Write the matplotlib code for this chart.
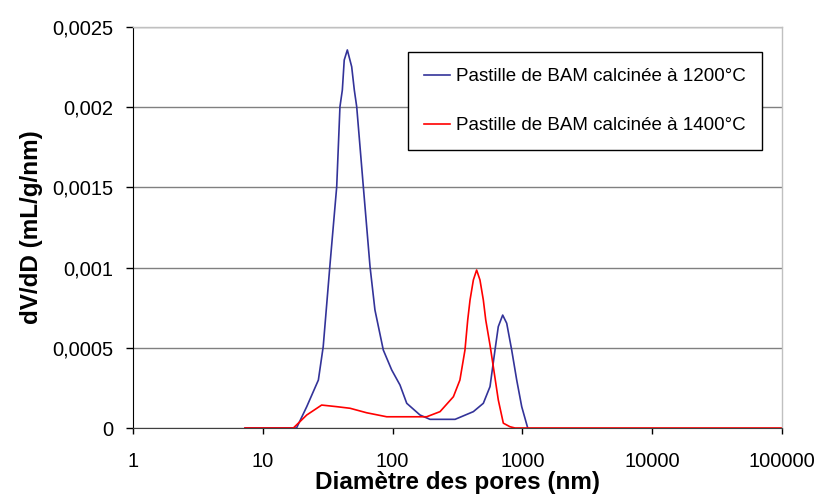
import matplotlib
matplotlib.use("Agg")
import matplotlib.pyplot as plt
from matplotlib.ticker import FixedLocator, FuncFormatter, NullLocator

plt.rcParams['font.family'] = ['Liberation Sans', 'DejaVu Sans']

# Data: pore diameter (nm) and dV/dD (mL/g/nm)
d_1200 = [7.3, 18.2, 21.8, 26.8, 29.2, 33.0, 37.1, 39.3, 41.0, 42.4, 44.8, 48.4, 50.7,
          52.9, 59.5, 67.0, 73.1, 84.8, 98.4, 114, 128.5, 162.6, 194, 303, 419, 500,
          563, 615, 652, 705, 757, 827, 904, 988, 1099]
v_1200 = [0, 0, 0.000133, 0.000299, 0.000507, 0.001027, 0.001504, 0.002003, 0.002107,
          0.002294, 0.002357, 0.002252, 0.002107, 0.002003, 0.001504, 0.001006, 0.000736,
          0.000486, 0.000362, 0.000268, 0.000154, 0.000081, 0.000054, 0.000054, 0.000102,
          0.000154, 0.000258, 0.000486, 0.000632, 0.000704, 0.000653, 0.000486, 0.000299,
          0.000133, 0.0]

d_1400 = [7.3, 17.2, 21.8, 28.4, 37.1, 47.0, 63.1, 90.1, 183, 232, 294, 330, 361, 379,
          395, 419, 444, 471, 500, 522, 563, 597, 652, 713, 802, 877, 100000]
v_1400 = [0, 0, 0.000081, 0.000143, 0.000133, 0.000123, 0.000095, 0.00007, 0.00007,
          0.000102, 0.000195, 0.000299, 0.000486, 0.000673, 0.000798, 0.000923, 0.000985,
          0.000923, 0.000798, 0.000673, 0.000517, 0.000382, 0.000175, 0.00003, 0.000008,
          0, 0]

labels = ["Pastille de BAM calcinée à 1200°C", "Pastille de BAM calcinée à 1400°C"]
x_ticks = [1, 10, 100, 1000, 10000, 100000]
y_ticks = [0, 0.0005, 0.001, 0.0015, 0.002, 0.0025]
y_tick_labels = ["0", "0,0005", "0,001", "0,0015", "0,002", "0,0025"]

fig = plt.figure(figsize=(8.19, 4.97), dpi=100)
ax = fig.add_axes([133/819, 1-428/497, (782-133)/819, (428-27)/497])

ax.plot(d_1200, v_1200, color="#333399", lw=1.2, label=labels[0])
ax.plot(d_1400, v_1400, color="#FF0000", lw=1.2, label=labels[1])

ax.set_xscale("log")
ax.set_xlim(1, 100000)
ax.set_ylim(0, 0.0025)
ax.xaxis.set_major_locator(FixedLocator(x_ticks))
ax.xaxis.set_minor_locator(NullLocator())
ax.xaxis.set_major_formatter(FuncFormatter(lambda v, p: f"{int(round(v))}"))
ax.set_yticks(y_ticks)
ax.set_yticklabels(y_tick_labels)

ax.grid(axis="y", color="#808080", lw=1.0)
ax.set_axisbelow(True)
for s in ["top", "right"]:
    ax.spines[s].set_color("#c0c0c0")
    ax.spines[s].set_linewidth(1.0)
ax.spines["left"].set_color("black")
ax.spines["bottom"].set_color("#404040")

ax.tick_params(axis="y", direction="out", length=5, width=1, pad=9, labelsize=14.5, colors="black")
ax.tick_params(axis="x", direction="out", length=4, width=1, pad=13, labelsize=14.5, colors="black")

ax.set_xlabel("Diamètre des pores (nm)", fontsize=17.5, fontweight="bold", labelpad=0.5)
ax.set_ylabel("dV/dD (mL/g/nm)", fontsize=17.5, fontweight="bold", labelpad=7)

leg = ax.legend(loc="upper left", bbox_to_anchor=(408/819, 1-52/497),
                bbox_transform=fig.transFigure, fontsize=13.5, frameon=True,
                fancybox=False, edgecolor="black", framealpha=1,
                handlelength=1.4, labelspacing=1.7, borderpad=0.85, handletextpad=0.3,
                borderaxespad=0)
leg.get_frame().set_linewidth(1.0)

fig.savefig("out.png", dpi=100)
